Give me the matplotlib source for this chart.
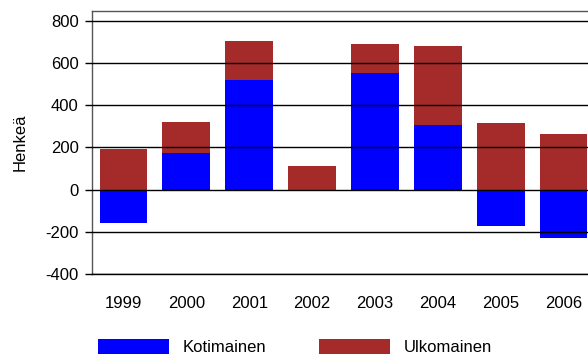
import matplotlib
matplotlib.use("Agg")
import matplotlib.pyplot as plt
import numpy as np

plt.rcParams['font.family'] = ['Liberation Sans', 'DejaVu Sans']

years = ['1999', '2000', '2001', '2002', '2003', '2004', '2005', '2006']
kotimainen = [-157, 171, 519, -6, 552, 304, -174, -231]
ulkomainen = [190, 150, 185, 113, 136, 375, 315, 262]
series_labels = ['Kotimainen', 'Ulkomainen']
y_ticks = [-400, -200, 0, 200, 400, 600, 800]

blue = '#0000FF'
brown = '#A52A2A'
fs = 12

fig = plt.figure(figsize=(5.88, 3.57), dpi=100)
ax = fig.add_axes([92 / 588, (357 - 274) / 357, 503 / 588, 263 / 357])

x = np.arange(len(years))
kot = np.array(kotimainen, dtype=float)
ulk = np.array(ulkomainen, dtype=float)
# positive parts stack upward from zero, negative parts hang below it
ulk_base = np.where(kot > 0, kot, 0)

w = 0.76
ax.bar(x, kot, width=w, color=blue, label=series_labels[0], zorder=1)
ax.bar(x, ulk, width=w, bottom=ulk_base, color=brown, label=series_labels[1], zorder=1)

ax.set_xlim(-0.5, len(years) - 0.5)
ax.set_ylim(-400, 845)
ax.set_yticks(y_ticks)
ax.set_yticklabels([str(v) for v in y_ticks], fontsize=fs)
ax.set_xticks(x)
ax.set_xticklabels(years, fontsize=fs)

ax.set_axisbelow(False)
ax.yaxis.grid(True, color='black', linewidth=1.0)
ax.xaxis.grid(False)

ax.tick_params(axis='y', length=5, width=1, color='black', pad=4.5)
ax.tick_params(axis='x', length=0, pad=15.5)

for side in ['left', 'top', 'right']:
    ax.spines[side].set_color('#555555')
    ax.spines[side].set_linewidth(1)
ax.spines['bottom'].set_color('black')
ax.spines['bottom'].set_linewidth(1)

ax.set_ylabel('Henkeä', fontsize=fs)
ax.yaxis.set_label_coords(-0.128, 0.5)

fig.legend(loc='lower left', bbox_to_anchor=(96 / 588, 0.0), ncol=2, frameon=False,
           fontsize=fs, handlelength=4.25, handleheight=0.96, handletextpad=0.82,
           columnspacing=3.2, borderpad=0.1, borderaxespad=0.0)

fig.savefig('out.png', dpi=100)
